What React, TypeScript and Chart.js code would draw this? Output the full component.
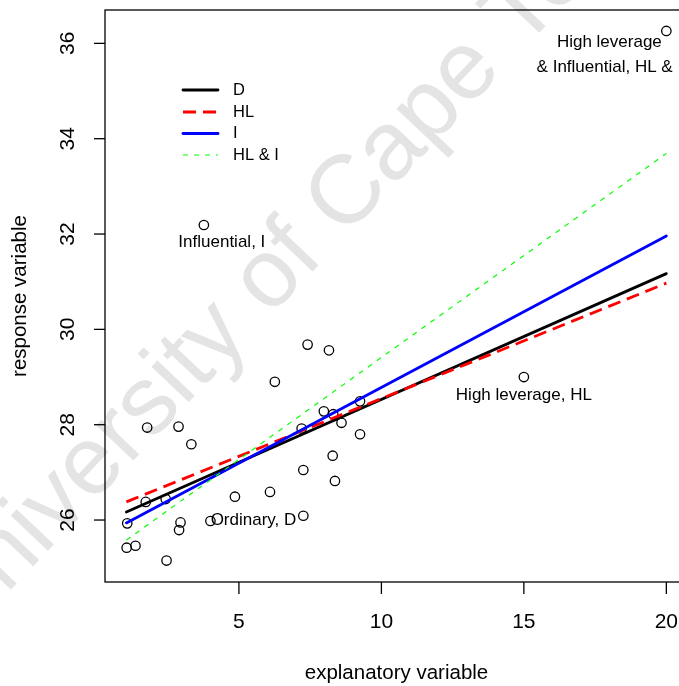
import React, { useEffect, useRef } from "react";
import { Chart, registerables } from "chart.js";

Chart.register(...registerables);

// ---- data ----
const xValues = [1.06, 1.37, 1.08, 1.73, 1.78, 2.46, 2.43, 2.88, 2.9, 2.95, 3.33, 3.77, 4.0, 4.86, 6.09, 6.26, 7.2, 7.26, 7.26, 7.41, 7.98, 8.16, 8.31, 8.29, 8.37, 8.6, 9.25, 9.25, 15.0, 20.0];
const yValues = [25.42, 25.46, 25.93, 26.38, 27.94, 25.15, 26.44, 27.96, 25.79, 25.95, 27.59, 32.19, 25.98, 26.49, 26.59, 28.9, 27.92, 27.05, 26.09, 29.68, 28.28, 29.56, 28.22, 27.35, 26.82, 28.04, 28.49, 27.8, 29.0, 36.26];

const fitX = [1.05, 20];
const fitD = [26.17, 31.17];
const fitHL = [26.38, 30.97];
const fitI = [25.94, 31.96];
const fitHLI = [25.58, 33.69];

const seriesLabels = ["D", "HL", "I", "HL & I"];
const xTicks = [5, 10, 15, 20];
const yTicks = [26, 28, 30, 32, 34, 36];

const annotationTexts = ["Influential, I", "Ordinary, D", "High leverage, HL", "High leverage", "& Influential, HL & I"];
const annotationX = [4.4, 5.51, 15.0, 18.0, 18.0];
const annotationY = [31.83, 26.0, 28.62, 36.03, 35.5];

const xTitle = "explanatory variable";
const yTitle = "response variable";
const watermark = "University of Cape Town";

const FONT = '"Liberation Sans", Arial, Helvetica, sans-serif';

const toPts = (xs: number[], ys: number[]) => xs.map((x, i) => ({ x, y: ys[i] }));

const rPlot = {
  id: "rPlot",
  beforeDatasetsDraw(chart: any) {
    const ctx = chart.ctx;
    ctx.save();
    ctx.translate(318, 266);
    ctx.rotate((-46.5 * Math.PI) / 180);
    ctx.fillStyle = "#e4e4e4";
    ctx.font = `97px ${FONT}`;
    ctx.textAlign = "center";
    ctx.textBaseline = "alphabetic";
    ctx.fillText(watermark, 0, 0);
    ctx.restore();
  },
  afterDraw(chart: any) {
    const ctx = chart.ctx;
    const { left, right, top, bottom } = chart.chartArea;
    const xs = chart.scales.x;
    const ys = chart.scales.y;
    ctx.save();
    ctx.strokeStyle = "#000";
    ctx.fillStyle = "#000";
    ctx.lineWidth = 1.3;
    ctx.strokeRect(left, top, right - left, bottom - top);

    // x ticks
    ctx.font = `21px ${FONT}`;
    ctx.textAlign = "center";
    ctx.textBaseline = "middle";
    xTicks.forEach((t) => {
      const px = xs.getPixelForValue(t);
      ctx.beginPath();
      ctx.moveTo(px, bottom);
      ctx.lineTo(px, bottom + 12);
      ctx.stroke();
      ctx.fillText(String(t), px, bottom + 40);
    });
    // y ticks
    yTicks.forEach((t) => {
      const py = ys.getPixelForValue(t);
      ctx.beginPath();
      ctx.moveTo(left - 11, py);
      ctx.lineTo(left, py);
      ctx.stroke();
      ctx.save();
      ctx.translate(left - 37, py);
      ctx.rotate(-Math.PI / 2);
      ctx.fillText(String(t), 0, 0);
      ctx.restore();
    });
    // titles
    ctx.font = `20.5px ${FONT}`;
    ctx.fillText(xTitle, (left + right) / 2, 673);
    ctx.save();
    ctx.translate(20, (top + bottom) / 2);
    ctx.rotate(-Math.PI / 2);
    ctx.fillText(yTitle, 0, 0);
    ctx.restore();

    // annotations
    ctx.font = `17px ${FONT}`;
    annotationTexts.forEach((txt, i) => {
      ctx.fillText(txt, xs.getPixelForValue(annotationX[i]), ys.getPixelForValue(annotationY[i]));
    });

    // legend
    const lx0 = left + 78;
    const lx1 = left + 113;
    const tx = left + 128;
    const rowY = [top + 80, top + 102, top + 123.5, top + 145];
    ctx.font = `16.5px ${FONT}`;
    ctx.textAlign = "left";
    chart.data.datasets.slice(1).forEach((ds: any, i: number) => {
      const y = rowY[i];
      ctx.save();
      ctx.strokeStyle = ds.borderColor;
      ctx.lineWidth = ds.borderWidth;
      ctx.setLineDash(ds.borderDash || []);
      ctx.lineCap = ds.borderCapStyle || "butt";
      ctx.beginPath();
      ctx.moveTo(lx0, y);
      ctx.lineTo(lx1, y);
      ctx.stroke();
      ctx.restore();
      ctx.fillStyle = "#000";
      ctx.fillText(ds.label, tx, y);
    });
    ctx.restore();
  },
};

export default function App() {
  const ref = useRef<HTMLCanvasElement>(null);
  useEffect(() => {
    const chart = new Chart(ref.current as HTMLCanvasElement, {
      type: "scatter",
      data: {
        datasets: [
          {
            label: "points",
            data: toPts(xValues, yValues),
            showLine: false,
            pointRadius: 4.7,
            pointBorderWidth: 1.3,
            pointBackgroundColor: "rgba(0,0,0,0)",
            pointBorderColor: "#000",
            order: 10,
          },
          {
            label: seriesLabels[0],
            data: toPts(fitX, fitD),
            showLine: true,
            borderColor: "#000000",
            borderWidth: 2.8,
            borderCapStyle: "round",
            pointRadius: 0,
            order: 4,
          },
          {
            label: seriesLabels[1],
            data: toPts(fitX, fitHL),
            showLine: true,
            borderColor: "#FF0000",
            borderWidth: 2.8,
            borderDash: [13, 7],
            borderCapStyle: "butt",
            pointRadius: 0,
            order: 3,
          },
          {
            label: seriesLabels[2],
            data: toPts(fitX, fitI),
            showLine: true,
            borderColor: "#0000FF",
            borderWidth: 2.8,
            borderCapStyle: "round",
            pointRadius: 0,
            order: 2,
          },
          {
            label: seriesLabels[3],
            data: toPts(fitX, fitHLI),
            showLine: true,
            borderColor: "#00FF00",
            borderWidth: 1.2,
            borderDash: [5, 6],
            borderCapStyle: "butt",
            pointRadius: 0,
            order: 1,
          },
        ],
      } as any,
      options: {
        responsive: false,
        animation: false,
        devicePixelRatio: 1,
        layout: { padding: { left: 105, right: 12, top: 10, bottom: 104 } },
        scales: {
          x: { type: "linear", min: 0.3, max: 20.76, display: false },
          y: { type: "linear", min: 24.7, max: 36.7, display: false },
        },
        plugins: { legend: { display: false }, tooltip: { enabled: false } },
      } as any,
      plugins: [rPlot],
    });
    return () => chart.destroy();
  }, []);
  return (
    <div style={{ position: "fixed", left: 0, top: 0, width: 679, height: 686, overflow: "hidden", background: "#fff" }}>
      <canvas ref={ref} width={700} height={686} style={{ display: "block", width: 700, height: 686 }} />
    </div>
  );
}
